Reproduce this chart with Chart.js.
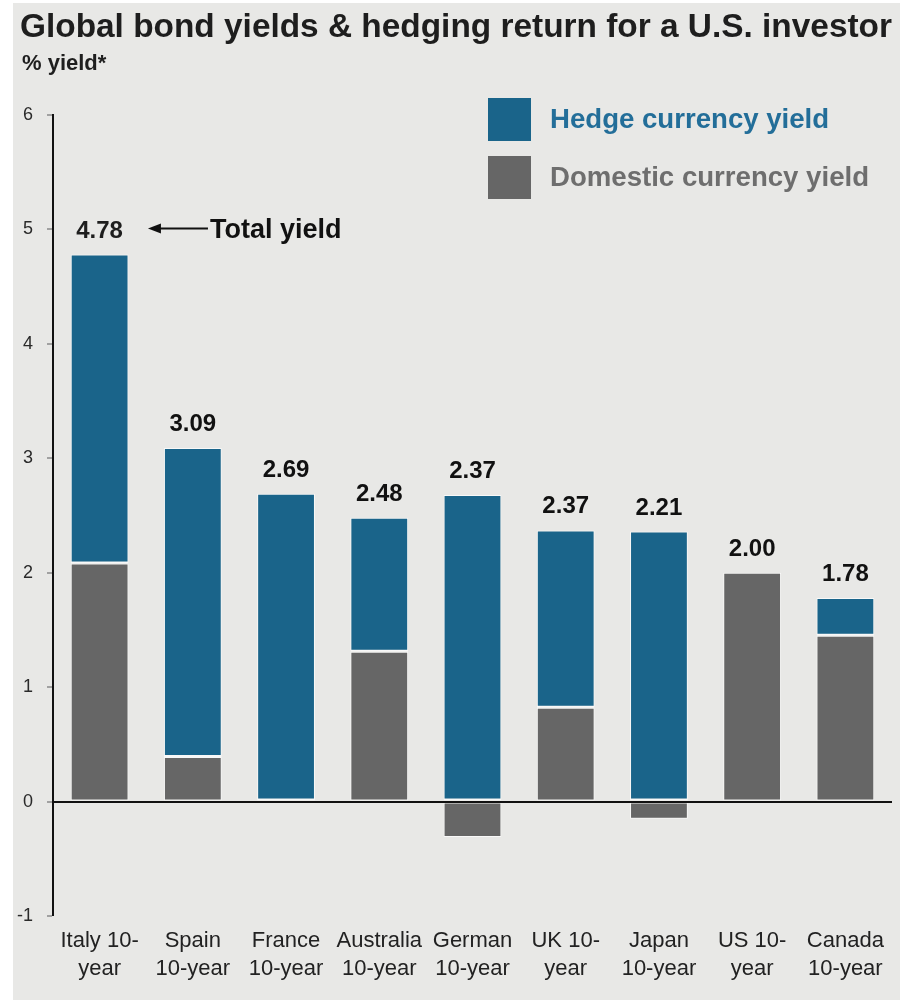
<!DOCTYPE html>
<html>
<head>
<meta charset="utf-8">
<title>Global bond yields</title>
<script src="https://cdn.jsdelivr.net/npm/chart.js@4.4.1/dist/chart.umd.min.js"></script>
<style>
  html, body { margin: 0; padding: 0; background: #ffffff; }
  #panel {
    position: absolute;
    left: 13px;
    top: 3px;
    width: 887px;
    height: 997px;
    background: #e8e8e6;
  }
</style>
</head>
<body>
<div id="panel"><canvas id="bond-chart" width="887" height="997"></canvas></div>
<script>
const FONT = '"Liberation Sans", Arial, Helvetica, sans-serif';

const titleText = 'Global bond yields & hedging return for a U.S. investor';
const subtitleText = '% yield*';
const arrowText = 'Total yield';

const markets = [
    ['Italy 10-', 'year'],
    ['Spain', '10-year'],
    ['France', '10-year'],
    ['Australia', '10-year'],
    ['German', '10-year'],
    ['UK 10-', 'year'],
    ['Japan', '10-year'],
    ['US 10-', 'year'],
    ['Canada', '10-year']
];

// domestic + hedge = total for every market
const domesticYield = [2.08, 0.39, 0.00, 1.31, -0.31, 0.82, -0.15, 2.00, 1.45];
const hedgeYield    = [2.70, 2.70, 2.69, 1.17, 2.68, 1.55, 2.36, 0.00, 0.33];
const totalYield    = [4.78, 3.09, 2.69, 2.48, 2.37, 2.37, 2.21, 2.00, 1.78];

const yTicks = [-1, 0, 1, 2, 3, 4, 5, 6];

const BLUE = '#1a648a';
const GREY = '#666666';

function headerPlugin() {
    return {
        id: 'header',
        afterDraw(chart) {
            const ctx = chart.ctx;
            ctx.save();
            ctx.textAlign = 'left';
            ctx.textBaseline = 'alphabetic';
            ctx.fillStyle = '#1e1e1e';
            ctx.font = `bold 33.4px ${FONT}`;
            ctx.fillText(titleText, 7, 34);
            ctx.font = `bold 22px ${FONT}`;
            ctx.fillText(subtitleText, 9, 67);
            ctx.restore();
        }
    };
}

function boxLegendPlugin() {
    return {
        id: 'boxLegend',
        afterDraw(chart) {
            const ctx = chart.ctx;
            const area = chart.chartArea;
            // hedge listed first, domestic second
            const items = [chart.data.datasets[1], chart.data.datasets[0]];
            ctx.save();
            ctx.font = `bold 27.6px ${FONT}`;
            ctx.textAlign = 'left';
            ctx.textBaseline = 'middle';
            items.forEach((ds, i) => {
                const x = area.right - 404;
                const y = area.top - 17 + i * 58;
                ctx.fillStyle = ds.backgroundColor;
                ctx.fillRect(x, y, 43, 43);
                ctx.fillStyle = ds.legendTextColor;
                ctx.fillText(ds.label, x + 62, y + 22);
            });
            ctx.restore();
        }
    };
}

function totalLabelPlugin() {
    return {
        id: 'totalLabels',
        afterDatasetsDraw(chart) {
            const ctx = chart.ctx;
            const yScale = chart.scales.y;
            const bars = chart.getDatasetMeta(0).data;
            ctx.save();
            ctx.font = `bold 24px ${FONT}`;
            ctx.fillStyle = '#1e1e1e';
            ctx.textAlign = 'center';
            ctx.textBaseline = 'alphabetic';
            totalYield.forEach((total, i) => {
                const stackTop = Math.max(0, domesticYield[i]) + Math.max(0, hedgeYield[i]);
                const x = bars[i].x;
                const y = yScale.getPixelForValue(stackTop) - 17;
                ctx.fillText(total.toFixed(2), x, y);

                if (i === 0) {
                    // arrow from the caption back to the first total
                    const w = ctx.measureText(total.toFixed(2)).width;
                    const tip = x + w / 2 + 25;
                    const tail = tip + 60;
                    const ay = y - 9;
                    ctx.strokeStyle = '#111';
                    ctx.lineWidth = 2;
                    ctx.beginPath();
                    ctx.moveTo(tip + 10, ay);
                    ctx.lineTo(tail, ay);
                    ctx.stroke();
                    ctx.beginPath();
                    ctx.moveTo(tip, ay);
                    ctx.lineTo(tip + 13, ay - 5);
                    ctx.lineTo(tip + 13, ay + 5);
                    ctx.closePath();
                    ctx.fillStyle = '#111';
                    ctx.fill();
                    ctx.font = `bold 27px ${FONT}`;
                    ctx.textAlign = 'left';
                    ctx.fillText(arrowText, tail + 2, y);
                    ctx.font = `bold 24px ${FONT}`;
                    ctx.textAlign = 'center';
                }
            });
            ctx.restore();
        }
    };
}

const chartConfig = {
    type: 'bar',
    data: {
        labels: markets,
        datasets: [
            {
                label: 'Domestic currency yield',
                data: domesticYield,
                backgroundColor: GREY,
                legendTextColor: '#6e6e6e',
                borderColor: 'rgba(255, 255, 255, 0.7)',
                borderWidth: {top: 1, right: 1, bottom: 1, left: 1},
                borderSkipped: false
            },
            {
                label: 'Hedge currency yield',
                data: hedgeYield,
                backgroundColor: BLUE,
                legendTextColor: '#236e99',
                borderColor: 'rgba(255, 255, 255, 0.7)',
                borderWidth: {top: 1, right: 1, bottom: 2, left: 1},
                borderSkipped: false
            }
        ]
    },
    options: {
        responsive: false,
        animation: false,
        layout: {
            padding: {top: 112, right: 8, bottom: 0, left: 0}
        },
        datasets: {
            bar: {
                categoryPercentage: 1,
                barPercentage: 0.62
            }
        },
        plugins: {
            legend: {display: false},
            tooltip: {enabled: false},
            title: {display: false}
        },
        scales: {
            x: {
                stacked: true,
                grid: {display: false, drawTicks: false},
                border: {display: false},
                ticks: {
                    color: '#222',
                    padding: 11,
                    maxRotation: 0,
                    autoSkip: false,
                    font: {family: FONT, size: 22, lineHeight: 1.27}
                },
                afterFit(scale) {
                    scale.height = 84;
                }
            },
            y: {
                stacked: true,
                min: -1,
                max: 6,
                afterBuildTicks(scale) {
                    scale.ticks = yTicks.map(v => ({value: v}));
                },
                // zero line sits on top of the bars, so grid and border go above the datasets
                grid: {
                    z: 1,
                    drawOnChartArea: true,
                    color: (c) => (c.tick && c.tick.value === 0) ? '#111' : 'rgba(0,0,0,0)',
                    lineWidth: (c) => (c.tick && c.tick.value === 0) ? 2 : 0,
                    tickColor: '#8a8a8a',
                    tickWidth: 1.5,
                    tickLength: 6
                },
                border: {display: true, color: '#111', width: 2, z: 1},
                ticks: {
                    color: '#2a2a2a',
                    padding: 14,
                    font: {family: FONT, size: 18}
                },
                afterFit(scale) {
                    scale.width = 40;
                }
            }
        }
    },
    plugins: [headerPlugin(), boxLegendPlugin(), totalLabelPlugin()]
};

new Chart(document.getElementById('bond-chart').getContext('2d'), chartConfig);
</script>
</body>
</html>
